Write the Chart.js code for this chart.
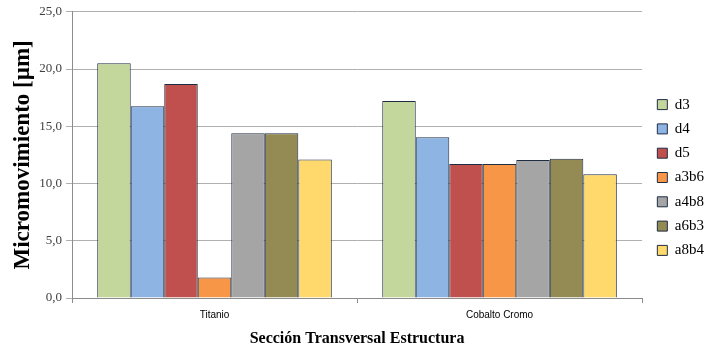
<!DOCTYPE html>
<html>
<head>
<meta charset="utf-8">
<script src="https://cdn.jsdelivr.net/npm/chart.js@4.4.1/dist/chart.umd.min.js"></script>
<style>
  html, body { margin: 0; padding: 0; background: #ffffff; }
  #wrap { width: 712px; height: 353px; }
</style>
</head>
<body>
<div id="wrap"><canvas id="c" width="712" height="353"></canvas></div>
<script>
// Categories (cross-section material) and micromotion per configuration, in µm
const categories = ['Titanio', 'Cobalto Cromo'];
const seriesNames = ['d3', 'd4', 'd5', 'a3b6', 'a4b8', 'a6b3', 'a8b4'];
const d3   = [20.5, 17.2];
const d4   = [16.75, 14.05];
const d5   = [18.7, 11.7];
const a3b6 = [1.8, 11.7];
const a4b8 = [14.4, 12.05];
const a6b3 = [14.4, 12.17];
const a8b4 = [12.1, 10.8];
const yTicks = [0, 5, 10, 15, 20, 25];

const seriesValues = [d3, d4, d5, a3b6, a4b8, a6b3, a8b4];
const seriesColors = ['#C3D69B', '#8EB4E3', '#C0504D', '#F79646', '#A5A5A5', '#948A54', '#FFD96B'];

const datasets = seriesNames.map((name, i) => ({
  label: name,
  data: seriesValues[i],
  backgroundColor: seriesColors[i],
  borderColor: '#1F2D44',
  borderWidth: 1,
  categoryPercentage: 0.823,
  barPercentage: 1.0
}));

// Shift the legend block inside its own box
const legendNudge = {
  id: 'legendNudge',
  afterLayout(chart) {
    const lg = chart.legend;
    if (!lg) return;
    const dx = 6, dy = -4;
    lg.left += dx; lg.right += dx;
    lg.top += dy; lg.bottom += dy;
  }
};

new Chart(document.getElementById('c'), {
  type: 'bar',
  data: { labels: categories, datasets },
  plugins: [legendNudge],
  options: {
    responsive: false,
    animation: false,
    layout: { padding: { top: 10, right: 4, left: 0, bottom: 0 } },
    plugins: {
      tooltip: { enabled: false },
      legend: {
        position: 'right',
        align: 'center',
        labels: {
          boxWidth: 10,
          boxHeight: 10,
          padding: 9.3,
          color: '#000000',
          font: { family: '"Liberation Serif", serif', size: 15 }
        }
      }
    },
    scales: {
      x: {
        afterFit(s) { s.height = 55; },
        grid: {
          display: true,
          drawOnChartArea: false,
          offset: true,
          color: '#8c8c8c',
          tickLength: 5
        },
        border: { display: true, color: '#8c8c8c' },
        ticks: {
          color: '#000000',
          padding: 6,
          font: { family: '"Liberation Sans", sans-serif', size: 10 }
        },
        title: {
          display: true,
          text: 'Sección Transversal Estructura',
          color: '#000000',
          padding: { top: 0, bottom: 5 },
          font: { family: '"Liberation Serif", serif', size: 16, weight: 'bold' }
        }
      },
      y: {
        min: 0,
        max: 25,
        afterFit(s) { s.width = 72; },
        afterBuildTicks(s) { s.ticks = yTicks.map(v => ({ value: v })); },
        grid: {
          color: '#b0b0b0',
          tickLength: 6,
          drawTicks: true
        },
        border: { display: true, color: '#8c8c8c' },
        ticks: {
          color: '#404040',
          padding: 4,
          font: { family: '"Liberation Serif", serif', size: 13 },
          callback: (v) => Number(v).toFixed(1).replace('.', ',')
        },
        title: {
          display: true,
          text: 'Micromovimiento [µm]',
          color: '#000000',
          padding: { top: 9, bottom: 0 },
          font: { family: '"Liberation Serif", serif', size: 23, weight: 'bold' }
        }
      }
    }
  }
});
</script>
</body>
</html>
